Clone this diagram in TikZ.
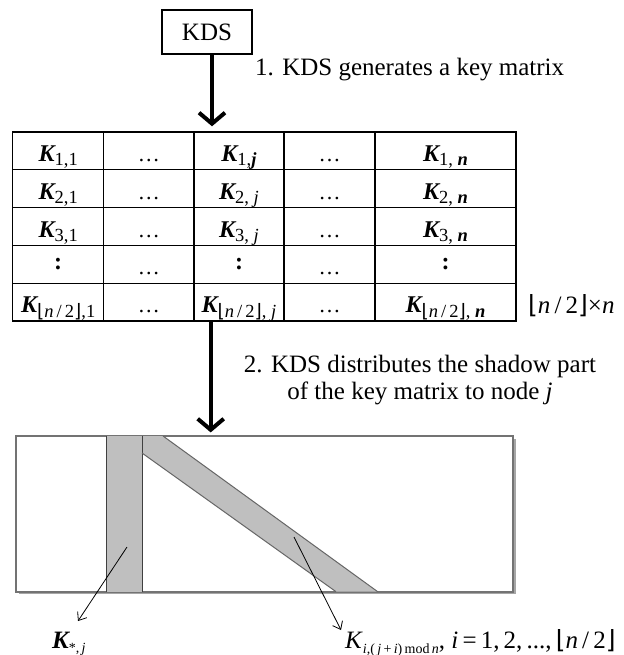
\documentclass[tikz,border=0pt]{standalone}
\usepackage{fontspec}
\setmainfont{Liberation Serif}
\newfontfamily\symf{DejaVu Sans}
\usetikzlibrary{arrows.meta,shadows,calc}

\newcommand{\Kb}[1]{{\bfseries\itshape K}\raisebox{-4.5pt}{\fontsize{18.5}{18.5}\selectfont #1}}
\newcommand{\fl}{{\symf ⌊}}
\newcommand{\fr}{{\symf ⌋}}
\newcommand{\halfn}{\fl\textit{n}\,/\,2\fr}
\newcommand{\dd}{{\fontsize{22}{22}\selectfont …}}
\newcommand{\vd}{\raisebox{5pt}{\textbf{:}}}

\begin{document}
\begin{tikzpicture}[x=1pt,y=-1pt,
  cell/.style={draw, line width=1.4pt, inner sep=0pt, minimum height=37.8pt,
    text height=23pt, text depth=2pt, font=\fontsize{24}{26}\selectfont},
  lbl/.style={font=\fontsize{25}{27}\selectfont, inner sep=0pt},
  bigarrow/.style={line width=4pt, -{Straight Barb[length=11pt,width=26pt]}},
  thinarrow/.style={line width=0.8pt, -{Straight Barb[length=7pt,width=11pt]}},
  band/.style={fill=gray!50},
  bandedge/.style={draw=black!75, line width=1pt}]
\useasboundingbox (0,0) rectangle (623,655);

% KDS box
\node[draw, line width=1.4pt, minimum width=90pt, minimum height=44pt, inner sep=0pt,
  font=\fontsize{25}{27}\selectfont] (kds) at (207,32) {KDS};

% key matrix
\node[cell, minimum width=91pt]   (c-1-1) at (58.2,150.9)   {\Kb{1,1}};
\node[cell, minimum width=90.3pt] (c-1-2) at (148.85,150.9) {\dd};
\node[cell, minimum width=90pt]   (c-1-3) at (239,150.9)    {\Kb{1,\textbf{\textit{j}}}};
\node[cell, minimum width=91pt]   (c-1-4) at (329.5,150.9)  {\dd};
\node[cell, minimum width=141pt]  (c-1-5) at (445.5,150.9)  {\Kb{1, \textbf{\textit{n}}}};

\node[cell, minimum width=91pt]   (c-2-1) at (58.2,188.7)   {\Kb{2,1}};
\node[cell, minimum width=90.3pt] (c-2-2) at (148.85,188.7) {\dd};
\node[cell, minimum width=90pt]   (c-2-3) at (239,188.7)    {\Kb{2, \textit{j}}};
\node[cell, minimum width=91pt]   (c-2-4) at (329.5,188.7)  {\dd};
\node[cell, minimum width=141pt]  (c-2-5) at (445.5,188.7)  {\Kb{2, \textbf{\textit{n}}}};

\node[cell, minimum width=91pt]   (c-3-1) at (58.2,226.5)   {\Kb{3,1}};
\node[cell, minimum width=90.3pt] (c-3-2) at (148.85,226.5) {\dd};
\node[cell, minimum width=90pt]   (c-3-3) at (239,226.5)    {\Kb{3, \textit{j}}};
\node[cell, minimum width=91pt]   (c-3-4) at (329.5,226.5)  {\dd};
\node[cell, minimum width=141pt]  (c-3-5) at (445.5,226.5)  {\Kb{3, \textbf{\textit{n}}}};

\node[cell, minimum width=91pt]   (c-4-1) at (58.2,264.3)   {\vd};
\node[cell, minimum width=90.3pt] (c-4-2) at (148.85,264.3) {\dd};
\node[cell, minimum width=90pt]   (c-4-3) at (239,264.3)    {\vd};
\node[cell, minimum width=91pt]   (c-4-4) at (329.5,264.3)  {\dd};
\node[cell, minimum width=141pt]  (c-4-5) at (445.5,264.3)  {\vd};

\node[cell, minimum width=91pt]   (c-5-1) at (58.2,302.1)   {\Kb{\halfn,1}};
\node[cell, minimum width=90.3pt] (c-5-2) at (148.85,302.1) {\dd};
\node[cell, minimum width=90pt]   (c-5-3) at (239,302.1)    {\Kb{\halfn, \textit{j}}};
\node[cell, minimum width=91pt]   (c-5-4) at (329.5,302.1)  {\dd};
\node[cell, minimum width=141pt]  (c-5-5) at (445.5,302.1)  {\Kb{\halfn, \textbf{\textit{n}}}};

\node[lbl, anchor=base west] (dim) at (528,313) {\fl\textit{n}\,/\,2\fr×\textit{n}};

% step 1
\coordinate (ax1) at (212,0);
\draw[bigarrow] (kds.south -| ax1) -- ($(c-1-3.north -| ax1)+(0,-5)$);
\node[lbl, anchor=base west] (s1) at (255,76) {1. KDS generates a key matrix};

% bottom plane
\node[draw=black!55, line width=1.2pt, fill=white, minimum width=497pt, minimum height=155.7pt,
  inner sep=0pt, drop shadow={shadow xshift=2.5pt, shadow yshift=-2.5pt, fill=gray!70, opacity=1}]
  (plane) at (264.5,513.85) {};

% step 2
\coordinate (ax2) at (210.7,0);
\draw[bigarrow] (c-5-3.south -| ax2) -- ($(plane.north -| ax2)+(0,-3)$);
\node[lbl, align=center] (s2) at (420,380)
  {2. KDS distributes the shadow part\\of the key matrix to node \textit{j}};

% shaded parts
\fill[band] (106,436) rectangle (142,591.7);
\fill[band] (142,436) -- (163,436) -- (377.7,591.7) -- (336,591.7) -- (142,453) -- cycle;
\draw[bandedge] (106,436) -- (106,591.7) (142,436) -- (142,591.7);
\draw[draw=black!60, line width=1pt] (142,453) -- (336,591.7) (163,436) -- (377.7,591.7);
\draw[draw=black!55, line width=1.2pt] (plane.north west) rectangle (plane.south east);

% pointers
\coordinate (pa) at (127,547); \coordinate (qa) at (78,621);
\draw[thinarrow] (pa) -- (qa);
\coordinate (pb) at (294,537); \coordinate (qb) at (341,630);
\draw[thinarrow] (pb) -- (qb);

\node[lbl, anchor=base west] (kstar) at (52,648)
  {{\bfseries\itshape K}\raisebox{-4pt}{\fontsize{14}{14}\selectfont *,\,\textit{j}}};
\node[lbl, anchor=base west] (kdiag) at (345,648)
  {\textit{K}\raisebox{-5pt}{\fontsize{14}{14}\selectfont\textit{i},(\,\textit{j}\,+\,\textit{i})\,mod\,\textit{n}}, \textit{i}\,=\,1,\,2,\,...,\,\fl\textit{n}\,/\,2\fr};
\end{tikzpicture}
\end{document}
